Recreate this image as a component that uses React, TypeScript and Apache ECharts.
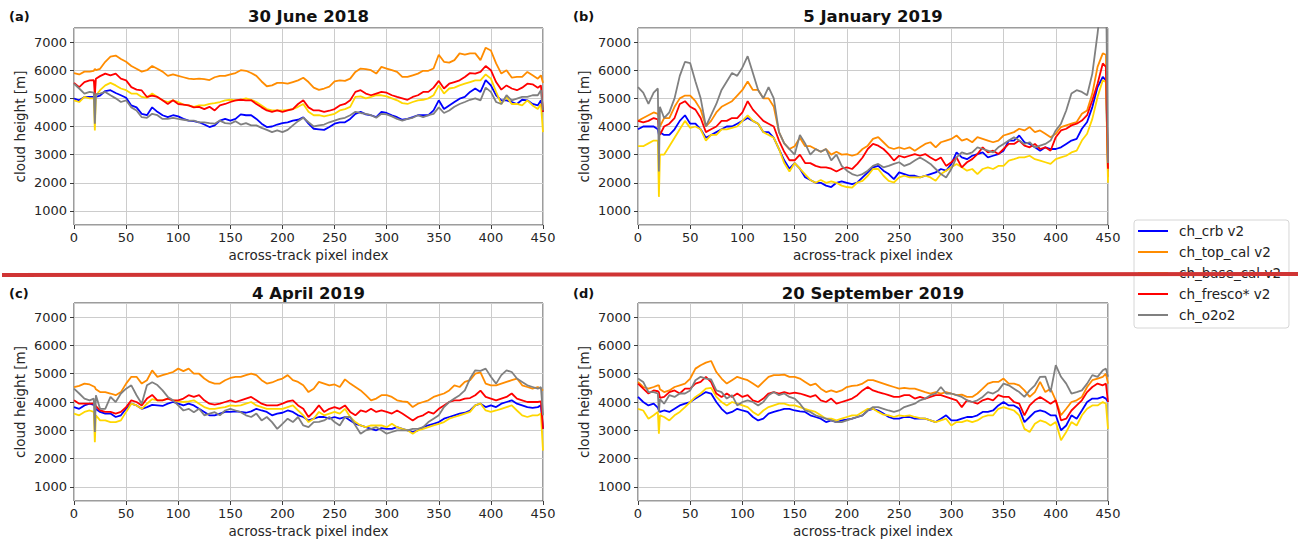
import React, { useEffect, useRef } from "react";
import * as echarts from "echarts";

// across-track pixel index (shared by all series)
const X = [
  0, 5, 10, 15, 19, 20, 21, 25, 30, 35, 40, 45, 50,
  55, 60, 65, 70, 75, 80, 85, 90, 95, 100,
  105, 110, 115, 120, 125, 130, 135, 140, 145, 150,
  155, 160, 165, 170, 175, 180, 185, 190, 195, 200,
  205, 210, 215, 220, 225, 230, 235, 240, 245, 250,
  255, 260, 265, 270, 275, 280, 285, 290, 295, 300,
  305, 310, 315, 320, 325, 330, 335, 340, 345, 350,
  355, 360, 365, 370, 375, 380, 385, 390, 395, 400,
  405, 410, 415, 420, 425, 430, 435, 440, 445, 448, 450,
];

const SERIES_NAMES = ["ch_crb v2", "ch_top_cal v2", "ch_base_cal v2", "ch_fresco* v2", "ch_o2o2"];
const SERIES_COLORS = ["#0000ff", "#ff8c00", "#ffd700", "#ff0000", "#808080"];
const PANEL_TITLES = ["30 June 2018", "5 January 2019", "4 April 2019", "20 September 2019"];
const PANEL_LABELS = ["(a)", "(b)", "(c)", "(d)"];
const X_TICKS = [0, 50, 100, 150, 200, 250, 300, 350, 400, 450];
const Y_TICKS = [1000, 2000, 3000, 4000, 5000, 6000, 7000];

// ---- (a) 30 June 2018 ----
const A_CRB = [
  4990, 4930, 5050, 5050, 5050, 5050, 5050, 5100, 5260, 5290, 5190, 5110, 5020,
  4750, 4680, 4450, 4400, 4680, 4520, 4400, 4330, 4400, 4360,
  4270, 4210, 4190, 4150, 4070, 3980, 4040, 4210, 4270, 4210,
  4270, 4430, 4400, 4400, 4270, 4100, 3980, 4000, 4070, 4120,
  4150, 4210, 4240, 4330, 4100, 3920, 3900, 3880, 3980, 4100,
  4150, 4150, 4270, 4450, 4520, 4430, 4400, 4330, 4520, 4480,
  4400, 4330, 4240, 4270, 4330, 4400, 4400, 4400, 4570, 4930,
  4620, 4750, 4870, 4990, 5050, 5230, 5350, 5230, 5650, 5460,
  5110, 4930, 4930, 4870, 4800, 4950, 4930, 4800, 4750, 4930, 4520,
];
const A_TOP = [
  5900, 5850, 5950, 5950, 5980, 6050, 6000, 6050, 6300, 6480, 6520, 6400, 6300,
  6150, 6050, 5950, 6000, 6150, 6050, 5950, 5800, 5850, 5800,
  5750, 5700, 5680, 5700, 5680, 5650, 5750, 5800, 5800, 5850,
  5900, 6000, 5980, 5900, 5800, 5600, 5430, 5460, 5550, 5550,
  5520, 5580, 5640, 5730, 5580, 5380, 5300, 5350, 5420, 5600,
  5640, 5620, 5700, 5940, 6060, 6040, 6000, 5880, 6120, 6060,
  6000, 5940, 5760, 5760, 5820, 5880, 5980, 5980, 6060, 6550,
  6300, 6270, 6360, 6600, 6550, 6600, 6600, 6360, 6800, 6700,
  6240, 5880, 6000, 5740, 5760, 5760, 5940, 5820, 5700, 5820, 5550,
];
const A_BASE = [
  4930, 4870, 5050, 5000, 5000, 3860, 5100, 5290, 5460, 5550, 5460, 5350, 5290,
  5170, 5170, 5050, 5020, 5170, 5050, 4930, 4870, 4930, 4870,
  4780, 4750, 4700, 4750, 4750, 4800, 4830, 4870, 4930, 4950,
  4930, 4950, 5000, 4950, 4870, 4750, 4620, 4570, 4570, 4570,
  4590, 4620, 4700, 4800, 4520, 4400, 4400, 4360, 4400, 4450,
  4570, 4620, 4700, 5050, 5070, 5000, 5050, 5110, 5110, 5070,
  5000, 4930, 4830, 4800, 4870, 4930, 4950, 5000, 5110, 5460,
  5170, 5350, 5380, 5460, 5520, 5580, 5640, 5640, 5850, 5700,
  5230, 4800, 5050, 4800, 4800, 4750, 4930, 4750, 4620, 4800, 3800,
];
const A_FRESCO = [
  5550, 5400, 5580, 5640, 5650, 5100, 5700, 5790, 5880, 5820, 5880, 5700, 5640,
  5400, 5310, 5280, 5050, 5100, 5050, 4930, 4800, 4930, 4800,
  4780, 4750, 4680, 4700, 4620, 4700, 4570, 4750, 4800, 4870,
  4930, 4950, 4930, 4930, 4800, 4680, 4570, 4520, 4570, 4520,
  4570, 4620, 4800, 4930, 4680, 4570, 4570, 4520, 4560, 4620,
  4750, 4800, 4930, 5230, 5290, 5170, 5110, 5170, 5230, 5200,
  5110, 5050, 5000, 4950, 5050, 5110, 5230, 5230, 5380, 5620,
  5350, 5520, 5580, 5640, 5760, 5900, 5880, 5940, 6150, 6000,
  5580, 5310, 5460, 5350, 5290, 5380, 5520, 5500, 5380, 5460, 4520,
];
const A_O2O2 = [
  5520, 5350, 5170, 5230, 5200, 4100, 5150, 5170, 5230, 5110, 5000, 4870, 4930,
  4680, 4570, 4330, 4310, 4450, 4400, 4270, 4270, 4310, 4270,
  4240, 4210, 4210, 4150, 4150, 4120, 4100, 4210, 4120, 4100,
  4190, 4070, 4120, 4040, 4040, 3950, 3880, 3800, 3860, 3800,
  3880, 4040, 4190, 4310, 4150, 4000, 4040, 4070, 4150, 4210,
  4270, 4310, 4400, 4520, 4480, 4450, 4400, 4310, 4450, 4430,
  4360, 4270, 4210, 4270, 4310, 4400, 4330, 4400, 4450, 4680,
  4480, 4570, 4700, 4800, 4870, 4950, 5000, 4930, 5380, 5230,
  4870, 4800, 5110, 4930, 4990, 5050, 5050, 5110, 5110, 5290, 4570,
];

// ---- (b) 5 January 2019 ----
const B_CRB = [
  3900, 4000, 4000, 4000, 3900, 3700, 3800, 3700, 3700, 3900, 4200, 4400, 4100,
  4100, 3900, 3600, 3700, 3800, 3900, 4000, 4000, 4100, 4200,
  4300, 4200, 4100, 3800, 3800, 3600, 3200, 2800, 2500, 2700,
  2500, 2200, 2100, 2000, 2000, 1900, 1850, 2000, 2050, 2000,
  1950, 2010, 2190, 2370, 2550, 2600, 2430, 2310, 2130, 2370,
  2310, 2250, 2250, 2190, 2250, 2310, 2370, 2490, 2430, 2670,
  3080, 2900, 2840, 2960, 3020, 3080, 2900, 2960, 3020, 3140,
  3500, 3500, 3680, 3440, 3380, 3260, 3140, 3260, 3200, 3200,
  3260, 3380, 3500, 3560, 3920, 4160, 4690, 5400, 5760, 5640, 2400,
];
const B_TOP = [
  4200, 4300, 4400, 4500, 4450, 4300, 4000, 4300, 4300, 4700, 5000, 5100, 5100,
  4900, 4600, 4000, 4200, 4500, 4700, 4800, 4900, 5100, 5300,
  5600, 5300, 5300, 5000, 5000, 4700, 3800, 3400, 3200, 3300,
  3600, 3300, 3300, 3200, 3100, 3200, 3000, 3100, 3000, 3020,
  2960, 3020, 3200, 3320, 3560, 3620, 3440, 3260, 3200, 3260,
  3200, 3260, 3140, 3260, 3380, 3440, 3260, 3440, 3500, 3560,
  3680, 3500, 3560, 3440, 3620, 3560, 3500, 3440, 3500, 3680,
  3740, 3800, 3920, 3860, 3980, 3800, 3860, 3740, 3620, 3740,
  3980, 4040, 4100, 4160, 4450, 4570, 5170, 6120, 6600, 6550, 2200,
];
const B_BASE = [
  3300, 3300, 3400, 3500, 3500, 1500, 3000, 3000, 3300, 3600, 3900, 4200, 3950,
  4000, 3900, 3500, 3700, 3700, 3900, 3900, 3950, 4000, 4200,
  4400, 4200, 4100, 3800, 3700, 3600, 3200, 2700, 2400, 2700,
  2500, 2300, 2100, 2000, 2100, 2000, 2050, 2000, 1900, 1850,
  1830, 2010, 2070, 2250, 2490, 2490, 2250, 2070, 2010, 2190,
  2250, 2190, 2190, 2190, 2250, 2190, 2070, 2310, 2430, 2550,
  2670, 2550, 2430, 2490, 2310, 2490, 2550, 2490, 2600, 2600,
  2790, 2840, 2900, 2900, 2960, 2840, 2790, 2730, 2670, 2840,
  2900, 2960, 3080, 3140, 3500, 3740, 4270, 5050, 5640, 5580, 2000,
];
const B_FRESCO = [
  4200, 4150, 4200, 4300, 4250, 3900, 3700, 4000, 4100, 4300, 4800, 4900, 4700,
  4600, 4300, 3800, 3900, 4000, 4200, 4200, 4300, 4300, 4500,
  4900, 4600, 4400, 4200, 4100, 4000, 3500, 3100, 2800, 2800,
  3000, 2700, 2700, 2600, 2550, 2550, 2500, 2400, 2500, 2550,
  2490, 2670, 2900, 3200, 3380, 3320, 3200, 3020, 2790, 2960,
  2900, 2960, 3020, 2960, 3020, 2900, 2790, 2900, 2600, 2730,
  2900, 2550, 2730, 2840, 3020, 3260, 3080, 3140, 3020, 3200,
  3380, 3380, 3500, 3320, 3260, 3380, 3200, 3260, 3140, 3620,
  3860, 3920, 4040, 4100, 4210, 4400, 4930, 5520, 6240, 6120, 2500,
];
const B_O2O2 = [
  5400, 5200, 4800, 5200, 5350, 2400, 4700, 4300, 4500, 5000, 5800, 6300, 6250,
  5600, 5000, 4000, 4400, 4800, 5300, 5600, 5900, 5800, 6100,
  6500, 5900, 5300, 5000, 5400, 5000, 3800, 3400, 3200, 3000,
  3700, 3400, 3000, 3200, 3100, 3200, 2800, 3000, 2600, 2430,
  2310, 2250, 2310, 2430, 2600, 2670, 2550, 2600, 2670, 2730,
  2600, 2670, 2790, 2900, 2790, 2670, 2490, 2310, 2190, 2490,
  2900, 3080, 3020, 3080, 3260, 3200, 3140, 3080, 3260, 3380,
  3500, 3620, 3500, 3380, 3440, 3260, 3320, 3380, 3500, 3860,
  4100, 4570, 5170, 5290, 5230, 5110, 5880, 7300, 9000, 9500, 2700,
];

// ---- (c) 4 April 2019 ----
const C_CRB = [
  3820, 3760, 3880, 3940, 3900, 3880, 3750, 3650, 3590, 3590, 3470, 3530, 3760,
  3940, 3880, 3760, 3820, 3900, 3880, 3860, 3940, 4000, 3940,
  3880, 3940, 3880, 3760, 3650, 3530, 3530, 3590, 3650, 3650,
  3670, 3650, 3620, 3670, 3760, 3700, 3650, 3530, 3590, 3620,
  3700, 3650, 3530, 3470, 3350, 3410, 3470, 3470, 3410, 3470,
  3410, 3470, 3350, 3230, 3170, 3110, 3050, 3000, 3080, 3050,
  3050, 3110, 3050, 3000, 2940, 3000, 3110, 3170, 3230, 3290,
  3410, 3470, 3530, 3590, 3620, 3700, 3880, 3940, 3820, 3880,
  3820, 3940, 4000, 4060, 3940, 3880, 3820, 3790, 3820, 3880, 3050,
];
const C_TOP = [
  4530, 4570, 4650, 4620, 4550, 4530, 4450, 4350, 4350, 4300, 4240, 4350, 4650,
  4890, 4890, 4650, 4770, 5120, 4890, 4950, 5000, 5060, 5180,
  5090, 5180, 5000, 5000, 4830, 4710, 4650, 4650, 4770, 4850,
  4890, 4890, 4950, 5000, 4950, 4770, 4650, 4690, 4770, 4830,
  4950, 4770, 4710, 4590, 4350, 4470, 4710, 4650, 4590, 4620,
  4530, 4800, 4650, 4530, 4410, 4240, 4060, 4120, 4240, 4240,
  4180, 4060, 4020, 4000, 3820, 3940, 4000, 4060, 4180, 4240,
  4300, 4410, 4590, 4530, 4710, 4770, 5000, 5050, 4650, 4590,
  4590, 4650, 4710, 4770, 4830, 4590, 4530, 4470, 4530, 4470, 4400,
];
const C_BASE = [
  3590, 3530, 3650, 3700, 3650, 2580, 3530, 3350, 3350, 3290, 3290, 3350, 3650,
  3940, 3880, 3760, 3940, 4100, 4060, 4060, 4120, 4060, 4020,
  4000, 4020, 4060, 3940, 3820, 3760, 3760, 3790, 3820, 3880,
  3860, 3880, 3940, 4000, 3880, 3820, 3760, 3760, 3760, 3760,
  3820, 3880, 3700, 3530, 3290, 3410, 3650, 3530, 3590, 3650,
  3590, 3760, 3470, 3290, 3170, 3110, 3170, 3170, 3170, 3110,
  3230, 3110, 3050, 3000, 2880, 3000, 3050, 3110, 3170, 3230,
  3290, 3410, 3470, 3530, 3590, 3650, 3880, 3950, 3700, 3650,
  3700, 3760, 3820, 3880, 3700, 3530, 3470, 3530, 3530, 3590, 2280,
];
const C_FRESCO = [
  4060, 3940, 3940, 3940, 3950, 3950, 3850, 3700, 3650, 3650, 3590, 3650, 3820,
  4060, 4000, 3880, 4120, 4250, 4060, 4060, 4120, 4060, 4060,
  4120, 4240, 4180, 4240, 4060, 3940, 3910, 3940, 4000, 4060,
  4000, 4060, 4120, 4180, 4060, 3940, 3880, 3880, 3880, 3940,
  4020, 4060, 3880, 3760, 3470, 3650, 3880, 3650, 3760, 3820,
  3760, 3880, 3650, 3530, 3700, 3650, 3760, 3650, 3700, 3650,
  3590, 3700, 3590, 3470, 3350, 3470, 3530, 3650, 3590, 3760,
  3880, 4000, 4060, 4060, 4120, 4140, 4240, 4400, 4180, 4120,
  4060, 4120, 4180, 4300, 4120, 4060, 4000, 4000, 4000, 4020, 3050,
];
const C_O2O2 = [
  4470, 4300, 4120, 4060, 4120, 2940, 4240, 3760, 3760, 4180, 4000, 4300, 4470,
  4590, 4240, 3940, 4590, 4700, 4600, 4410, 4180, 4060, 3880,
  3700, 3760, 3640, 3760, 3530, 3590, 3640, 3530, 3700, 3760,
  3700, 3640, 3530, 3470, 3590, 3350, 3470, 3290, 3050, 3230,
  3410, 3290, 3470, 3170, 3110, 3290, 3300, 3350, 3470, 3290,
  3170, 3470, 3470, 3170, 2880, 3000, 3050, 3110, 3000, 2880,
  2940, 3000, 3000, 3000, 3050, 3050, 3110, 3290, 3410, 3530,
  3820, 4000, 4120, 4240, 4410, 4830, 5120, 5100, 5180, 4890,
  4650, 4950, 5120, 5060, 4830, 4710, 4590, 4530, 4470, 4530, 3530,
];

// ---- (d) 20 September 2019 ----
const D_CRB = [
  4180, 4000, 3880, 3940, 3800, 3700, 3650, 3700, 3650, 3760, 3880, 3940, 4000,
  4120, 4240, 4350, 4300, 4000, 3760, 3590, 3650, 3760, 3700,
  3650, 3470, 3350, 3410, 3590, 3650, 3700, 3760, 3760, 3700,
  3670, 3650, 3530, 3470, 3410, 3290, 3350, 3290, 3350, 3380,
  3410, 3470, 3530, 3700, 3760, 3700, 3590, 3470, 3410, 3410,
  3470, 3470, 3410, 3410, 3410, 3350, 3290, 3410, 3530, 3350,
  3350, 3410, 3470, 3470, 3530, 3650, 3650, 3700, 3880, 4000,
  3880, 3880, 3760, 3290, 3470, 3650, 3700, 3650, 3530, 3530,
  3000, 3170, 3530, 3410, 3700, 4000, 4120, 4120, 4180, 4120, 4000,
];
const D_TOP = [
  4710, 4530, 4470, 4530, 4590, 4590, 4450, 4350, 4410, 4530, 4590, 4650, 4830,
  5180, 5300, 5390, 5450, 5060, 4830, 4650, 4770, 4890, 4830,
  4770, 4650, 4530, 4710, 4890, 4950, 4950, 4970, 4890, 4890,
  4830, 4710, 4590, 4650, 4470, 4350, 4410, 4350, 4410, 4530,
  4570, 4590, 4650, 4770, 4770, 4710, 4650, 4590, 4530, 4470,
  4500, 4470, 4470, 4410, 4350, 4300, 4350, 4300, 4350, 4300,
  4240, 4260, 4180, 4180, 4300, 4470, 4650, 4710, 4710, 4830,
  4650, 4650, 4590, 4410, 4180, 4350, 4710, 4350, 4470, 4060,
  3530, 3760, 4000, 4060, 4180, 4530, 4770, 4830, 4890, 5000, 4650,
];
const D_BASE = [
  3760, 3700, 3410, 3530, 3650, 2880, 3530, 3470, 3350, 3530, 3650, 3820, 4000,
  4180, 4300, 4470, 4500, 4180, 4000, 3880, 4000, 3940, 3880,
  3820, 3650, 3530, 3700, 3820, 3880, 3940, 3940, 3880, 3880,
  3820, 3760, 3700, 3650, 3530, 3410, 3410, 3350, 3410, 3470,
  3530, 3530, 3650, 3760, 3760, 3650, 3550, 3530, 3470, 3530,
  3500, 3530, 3470, 3430, 3410, 3350, 3290, 3350, 3410, 3170,
  3290, 3290, 3350, 3290, 3350, 3470, 3530, 3530, 3760, 3820,
  3760, 3700, 3530, 3050, 2940, 3230, 3350, 3290, 3170, 3290,
  2650, 2940, 3290, 3170, 3530, 3760, 3880, 3880, 4000, 3940, 3050,
];
const D_FRESCO = [
  4650, 4470, 4300, 4410, 4380, 4350, 4150, 4180, 4350, 4410, 4300, 4470, 4470,
  4650, 4710, 4890, 4700, 4300, 4180, 4300, 4180, 4300, 4180,
  4240, 4060, 4000, 4120, 4300, 4350, 4300, 4350, 4300, 4330,
  4300, 4240, 4180, 4240, 4060, 4000, 4120, 3940, 4000, 4060,
  4120, 4240, 4410, 4530, 4410, 4350, 4300, 4240, 4180, 4180,
  4240, 4240, 4120, 4180, 4120, 4180, 4240, 4240, 4180, 4120,
  4060, 3820, 4060, 4000, 3940, 4060, 4120, 4060, 4240, 4180,
  4180, 4000, 3940, 3530, 3880, 4060, 4180, 4060, 3940, 4060,
  3350, 3410, 3700, 3880, 4060, 4350, 4530, 4650, 4590, 4650, 4000,
];
const D_O2O2 = [
  4830, 4710, 4350, 4350, 4300, 3650, 4100, 3940, 4240, 4180, 4300, 4300, 4410,
  4770, 4890, 4830, 4800, 4410, 4350, 4120, 4240, 3880, 4000,
  4060, 4000, 3880, 4000, 4240, 4350, 4240, 4300, 4180, 4120,
  3940, 3700, 3650, 3530, 3470, 3410, 3350, 3290, 3290, 3350,
  3410, 3470, 3530, 3700, 3820, 3820, 3760, 3700, 3650, 3700,
  3820, 3880, 3940, 4060, 4120, 4240, 4300, 4530, 4300, 4300,
  4240, 4180, 4060, 4000, 4060, 4180, 4350, 4300, 4410, 4650,
  4590, 4470, 4350, 4180, 4410, 4590, 4890, 4900, 4350, 5300,
  4890, 4650, 4300, 4350, 4410, 4650, 4950, 4890, 5120, 5180, 4890,
];

const PANEL_DATA = [
  [A_CRB, A_TOP, A_BASE, A_FRESCO, A_O2O2],
  [B_CRB, B_TOP, B_BASE, B_FRESCO, B_O2O2],
  [C_CRB, C_TOP, C_BASE, C_FRESCO, C_O2O2],
  [D_CRB, D_TOP, D_BASE, D_FRESCO, D_O2O2],
];

const FONT = "DejaVu Sans";
const GRIDS = [
  { left: 74, top: 28, width: 469, height: 197 },
  { left: 638, top: 28, width: 470, height: 197 },
  { left: 74, top: 303, width: 469, height: 198 },
  { left: 638, top: 303, width: 470, height: 198 },
];

export default function App() {
  const ref = useRef<HTMLDivElement>(null);
  useEffect(() => {
    if (!ref.current) return;
    const chart = echarts.init(ref.current, undefined, { renderer: "svg" });

    const grid = GRIDS.map((g) => ({
      ...g,
      show: true,
      borderColor: "#3a3a3a",
      borderWidth: 1,
      containLabel: false,
    }));

    const xAxis = GRIDS.map((_, i) => ({
      gridIndex: i,
      type: "value",
      min: 0,
      max: 450,
      interval: 50,
      name: "across-track pixel index",
      nameLocation: "middle",
      nameGap: 23,
      nameTextStyle: { fontSize: 13.5, color: "#262626", fontFamily: FONT },
      axisLine: { show: false },
      axisTick: { show: true, inside: false, length: 4, lineStyle: { color: "#3a3a3a" } },
      axisLabel: {
        fontSize: 13,
        color: "#262626",
        fontFamily: FONT,
        margin: 6,
        formatter: (v: number) => (X_TICKS.includes(v) ? String(v) : ""),
      },
      splitLine: { show: true, lineStyle: { color: "#cccccc", width: 1 } },
    }));

    const yAxis = GRIDS.map((_, i) => ({
      gridIndex: i,
      type: "value",
      min: 500,
      max: 7500,
      splitNumber: 7,
      name: "cloud height [m]",
      nameLocation: "middle",
      nameGap: 47,
      nameRotate: 90,
      nameTextStyle: { fontSize: 13.5, color: "#262626", fontFamily: FONT },
      axisLine: { show: false },
      axisTick: { show: true, inside: false, length: 4, lineStyle: { color: "#3a3a3a" } },
      axisLabel: {
        fontSize: 13,
        color: "#262626",
        fontFamily: FONT,
        margin: 7,
        showMinLabel: false,
        showMaxLabel: false,
        formatter: (v: number) => (Y_TICKS.includes(v) ? String(v) : ""),
      },
      splitLine: { show: true, lineStyle: { color: "#cccccc", width: 1 } },
    }));

    const series: any[] = [];
    PANEL_DATA.forEach((panel, p) => {
      panel.forEach((vals, s) => {
        series.push({
          type: "line",
          name: SERIES_NAMES[s],
          xAxisIndex: p,
          yAxisIndex: p,
          data: X.map((x, k) => [x, vals[k]]),
          symbol: "none",
          showSymbol: false,
          clip: true,
          lineStyle: { width: 1.8, color: SERIES_COLORS[s] },
          itemStyle: { color: SERIES_COLORS[s] },
          emphasis: { disabled: true },
          z: 2 + s,
        });
      });
    });

    const graphic: any[] = [];
    GRIDS.forEach((g, i) => {
      const titleY = i < 2 ? 16 : 293;
      graphic.push({
        type: "text",
        x: g.left + g.width / 2,
        y: titleY,
        style: {
          text: PANEL_TITLES[i],
          fontSize: 16.5,
          fontWeight: "bold",
          fontFamily: FONT,
          fill: "#111",
          textAlign: "center",
          textVerticalAlign: "middle",
        },
      });
      graphic.push({
        type: "text",
        x: i % 2 === 0 ? 9 : 573,
        y: titleY,
        style: {
          text: PANEL_LABELS[i],
          fontSize: 13,
          fontWeight: "bold",
          fontFamily: FONT,
          fill: "#111",
          textAlign: "left",
          textVerticalAlign: "middle",
        },
      });
    });
    graphic.push({
      type: "line",
      z: 1000,
      zlevel: 1,
      shape: { x1: 2, y1: 275, x2: 1298, y2: 274 },
      style: { stroke: "#d03434", lineWidth: 4 },
    });

    chart.setOption({
      animation: false,
      textStyle: { fontFamily: FONT },
      grid,
      xAxis,
      yAxis,
      series,
      graphic,
      legend: {
        data: SERIES_NAMES,
        orient: "vertical",
        left: 1134,
        top: 220,
        icon: "rect",
        itemWidth: 30,
        itemHeight: 2,
        itemGap: 5,
        padding: [3, 8, 5, 4],
        borderColor: "#d6d6d6",
        borderWidth: 1,
        borderRadius: 3,
        backgroundColor: "#ffffff",
        selectedMode: false,
        textStyle: {
          fontSize: 13.5,
          color: "#222",
          fontFamily: FONT,
          lineHeight: 16,
          padding: [0, 0, 0, 6],
        },
      },
    });
    return () => chart.dispose();
  }, []);
  return (
    <div
      ref={ref}
      style={{ position: "absolute", left: 0, top: 0, width: 1298, height: 546, background: "#fff" }}
    />
  );
}
